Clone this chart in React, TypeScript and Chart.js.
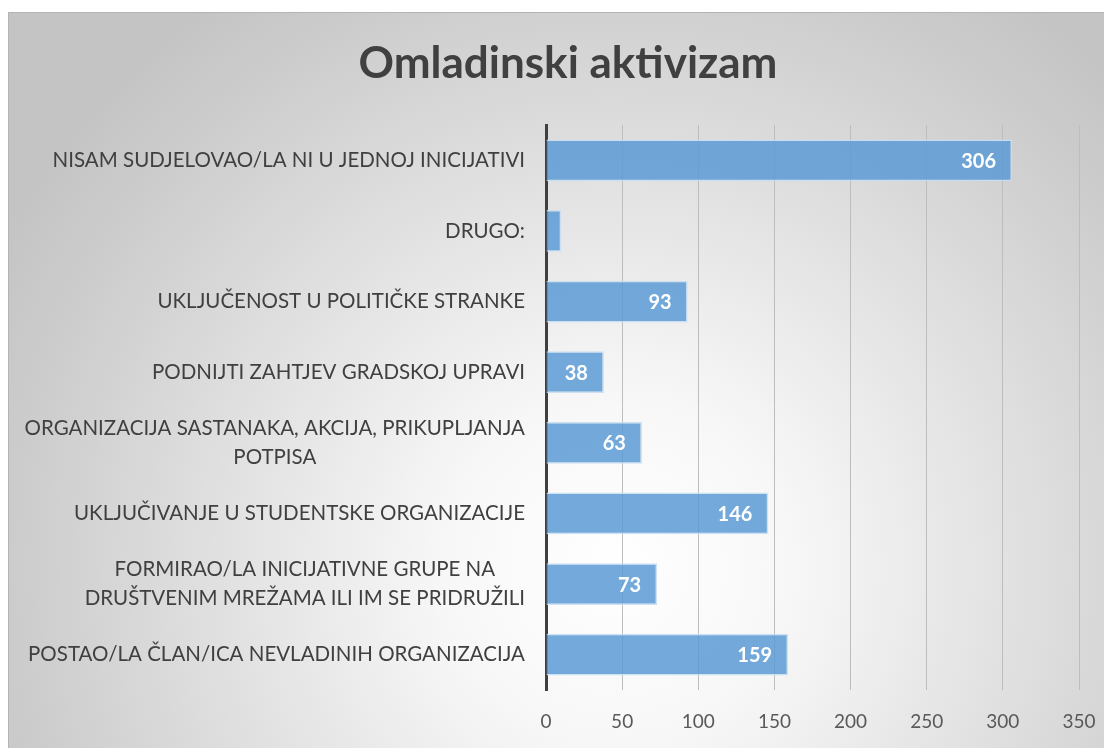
import React, { useEffect, useRef } from "react";
import { Chart, registerables } from "chart.js";

Chart.register(...registerables);

const TITLE = "Omladinski aktivizam";
const CATEGORIES: string[][] = [
  ["NISAM SUDJELOVAO/LA NI U JEDNOJ INICIJATIVI"],
  ["DRUGO:"],
  ["UKLJUČENOST U POLITIČKE STRANKE"],
  ["PODNIJTI ZAHTJEV GRADSKOJ UPRAVI"],
  ["ORGANIZACIJA SASTANAKA, AKCIJA, PRIKUPLJANJA", "POTPISA"],
  ["UKLJUČIVANJE U STUDENTSKE ORGANIZACIJE"],
  ["FORMIRAO/LA INICIJATIVNE GRUPE NA", "DRUŠTVENIM MREŽAMA ILI IM SE PRIDRUŽILI"],
  ["POSTAO/LA ČLAN/ICA NEVLADINIH ORGANIZACIJA"],
];
const VALUES: number[] = [306, 10, 93, 38, 63, 146, 73, 159];
const X_MIN = 0;
const X_MAX = 350;
const X_STEP = 50;

const FONT = "Lato, 'Open Sans', sans-serif";
const W = 1104;
const H = 740;

const backgroundPlugin = {
  id: "bgbox",
  beforeDraw(chart: any) {
    const ctx = chart.ctx;
    ctx.save();
    const top = 4;
    const g = ctx.createRadialGradient(610, 560, 0, 610, 560, 700);
    g.addColorStop(0, "#ffffff");
    g.addColorStop(0.25, "#f7f7f7");
    g.addColorStop(0.85, "#cdcdcd");
    g.addColorStop(1, "#c4c4c4");
    ctx.fillStyle = g;
    ctx.fillRect(0, top, W, H - top);
    ctx.strokeStyle = "#b4b4b4";
    ctx.lineWidth = 1;
    ctx.beginPath();
    ctx.moveTo(0.5, H);
    ctx.lineTo(0.5, top + 0.5);
    ctx.lineTo(W, top + 0.5);
    ctx.stroke();
    // title
    ctx.fillStyle = "#404040";
    ctx.font = `bold 44px ${FONT}`;
    ctx.textAlign = "center";
    ctx.textBaseline = "middle";
    ctx.fillText(TITLE, 560, 56);
    ctx.restore();
  },
};

const labelsPlugin = {
  id: "customLabels",
  afterDatasetsDraw(chart: any) {
    const ctx = chart.ctx;
    const yScale = chart.scales.y;
    ctx.save();
    // category labels
    ctx.font = `20.5px ${FONT}`;
    ctx.fillStyle = "#404040";
    ctx.textBaseline = "middle";
    ctx.textAlign = "center";
    const right = yScale.right - 21;
    const lh = 29;
    CATEGORIES.forEach((lines, i) => {
      const y = yScale.getPixelForTick(i);
      const maxW = Math.max(...lines.map((l) => ctx.measureText(l).width));
      const cx = right - maxW / 2;
      const y0 = y - ((lines.length - 1) * lh) / 2;
      lines.forEach((l, j) => ctx.fillText(l, cx, y0 + j * lh));
    });
    // value labels
    const meta = chart.getDatasetMeta(0);
    ctx.font = `bold 20px ${FONT}`;
    ctx.fillStyle = "#ffffff";
    ctx.textAlign = "right";
    meta.data.forEach((bar: any, i: number) => {
      const txt = String(VALUES[i]);
      const tw = ctx.measureText(txt).width;
      const len = bar.x - bar.base;
      if (len < tw + 20) return;
      ctx.fillText(txt, bar.x - 16, bar.y + 1);
    });
    ctx.restore();
  },
};

function BarChart() {
  const ref = useRef<HTMLCanvasElement | null>(null);
  useEffect(() => {
    if (!ref.current) return;
    const chart = new Chart(ref.current, {
      type: "bar",
      data: {
        labels: CATEGORIES.map((c) => c.join(" ")),
        datasets: [
          {
            data: VALUES,
            backgroundColor: "rgba(91,155,213,0.85)",
            borderColor: "rgba(200,222,242,0.9)",
            borderWidth: 1.5,
            barPercentage: 0.59,
            categoryPercentage: 1,
          },
        ],
      },
      options: {
        indexAxis: "y",
        responsive: false,
        animation: false,
        devicePixelRatio: 1,
        layout: { padding: { top: 117, right: 33, bottom: 0, left: 0 } },
        plugins: {
          legend: { display: false },
          title: { display: false },
          tooltip: { enabled: false },
        },
        scales: {
          x: {
            min: X_MIN,
            max: X_MAX,
            ticks: {
              stepSize: X_STEP,
              padding: 20,
              color: "#595959",
              font: { family: FONT, size: 19 },
            },
            grid: { color: "#bdbdbd", lineWidth: 1, drawTicks: false },
            border: { display: false },
            afterFit: (s: any) => {
              s.height = 58;
              s.paddingRight = 0;
              s.paddingLeft = 0;
            },
          },
          y: {
            ticks: { display: false },
            grid: { display: false, drawTicks: false },
            border: { display: true, color: "#3f3f3f", width: 3 },
            afterFit: (s: any) => {
              s.width = 538;
            },
          },
        },
      },
      plugins: [backgroundPlugin, labelsPlugin],
    });
    return () => chart.destroy();
  }, []);
  return <canvas ref={ref} width={W} height={H} style={{ display: "block", width: W, height: H }} />;
}

export default function App() {
  return (
    <div style={{ width: W, height: H }}>
      <BarChart />
    </div>
  );
}
